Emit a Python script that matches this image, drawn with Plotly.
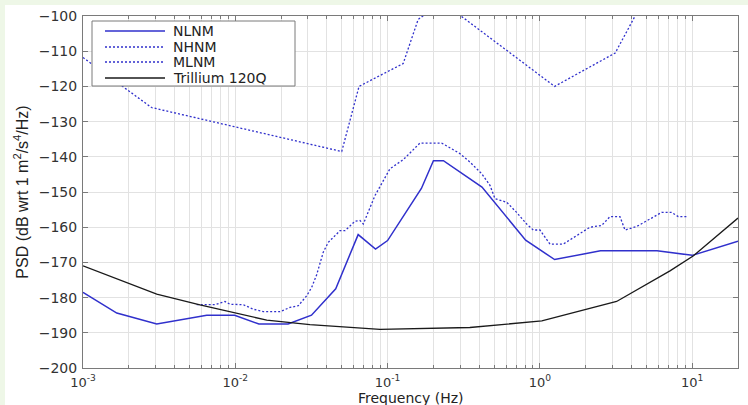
import plotly.graph_objects as go

# Peterson New Low Noise Model (frequency in Hz, PSD in dB)
nlnm_freq = [0.001, 0.001667, 0.003049, 0.006494, 0.009901, 0.01429, 0.02222, 0.03165,
             0.04566, 0.0641, 0.08333, 0.1, 0.1667, 0.2, 0.2326, 0.4167, 0.8065,
             1.25, 2.5, 5.882, 10.0, 20.0]
nlnm_psd = [-178.5, -184.4, -187.5, -185.0, -185.0, -187.5, -187.5, -185.0,
            -177.5, -162.1, -166.2, -163.8, -149.0, -141.1, -141.1, -148.6, -163.7,
            -169.2, -166.7, -166.7, -168.0, -164.0]

# Peterson New High Noise Model
nhnm_freq = [0.001, 0.002818, 0.05, 0.06494, 0.1266, 0.1587, 0.2174, 0.2632,
             1.25, 3.125, 4.545, 10.0]
nhnm_psd = [-111.8, -126.0, -138.5, -120.0, -113.5, -101.0, -96.5, -98.0,
            -120.0, -110.5, -97.4, -91.5]

# Station median low-noise curve
mlnm_freq = [0.00558, 0.00736, 0.00856, 0.00923, 0.01128, 0.01313, 0.01527, 0.01966,
             0.02286, 0.02593, 0.02942, 0.03174, 0.03423, 0.03782, 0.04078, 0.0487,
             0.05253, 0.06108, 0.06587, 0.06925, 0.08267, 0.09188, 0.1037, 0.1268,
             0.1632, 0.2265, 0.2987, 0.3475, 0.4148, 0.4703, 0.5072, 0.6053, 0.704,
             0.819, 0.9051, 1.0016, 1.165, 1.424, 1.744, 2.133, 2.546, 2.886, 3.357,
             3.622, 4.321, 6.304, 7.336, 8.104, 9.428]
mlnm_psd = [-182.0, -182.0, -181.1, -181.9, -182.0, -183.3, -184.0, -184.0,
            -182.8, -182.3, -179.5, -177.1, -173.5, -167.1, -164.3, -161.0,
            -161.0, -158.3, -158.1, -159.1, -151.0, -147.5, -143.4, -140.8,
            -136.1, -136.1, -139.1, -141.5, -144.8, -148.1, -151.9, -152.9, -155.8,
            -159.1, -160.8, -160.8, -164.8, -164.8, -162.4, -160.0, -159.5, -157.0, -157.0,
            -160.8, -159.8, -155.8, -155.8, -157.0, -157.0]

# Trillium 120Q self-noise
t120_freq = [0.001, 0.00305, 0.00586, 0.0101, 0.0161, 0.0309, 0.0729, 0.0892,
             0.347, 1.03, 3.19, 7.15, 10.2, 20.0]
t120_psd = [-171.0, -179.0, -182.1, -184.5, -186.4, -187.7, -188.7, -189.0,
            -188.5, -186.6, -181.1, -172.4, -168.1, -157.4]

x_tick_vals = [0.001, 0.01, 0.1, 1, 10]
x_tick_text = ["10<sup>-3</sup>", "10<sup>-2</sup>", "10<sup>-1</sup>",
               "10<sup>0</sup>", "10<sup>1</sup>"]
y_tick_vals = list(range(-200, -99, 10))

minor_vals = [m * 10 ** e for e in range(-3, 2) for m in range(2, 10) if m * 10 ** e <= 20]

BLUE = "#3030cc"
BLACK = "#1a1a1a"
DOT = "2px,2px"
FONT = "DejaVu Sans"

series = [
    ("NLNM", nlnm_freq, nlnm_psd, BLUE, 1.5, "solid"),
    ("NHNM", nhnm_freq, nhnm_psd, BLUE, 1.3, DOT),
    ("MLNM", mlnm_freq, mlnm_psd, BLUE, 1.3, DOT),
    ("Trillium 120Q", t120_freq, t120_psd, BLACK, 1.3, "solid"),
]

fig = go.Figure()
for name, fx, fy, color, width, dash in series:
    fig.add_trace(go.Scatter(x=fx, y=fy, mode="lines", name=name,
                             line=dict(color=color, width=width, dash=dash)))

W, H = 748, 405
ML, MR, MT, MB = 83, 10, 16, 37
PW, PH = W - ML - MR, H - MT - MB


def px_x(p):
    return (p - ML) / PW


def px_y(p):
    return 1 - (p - MT) / PH


# pale frame strips along the top and left edges of the page
frame = "#eef7e7"
fig.add_shape(type="rect", xref="paper", yref="paper", layer="below",
              x0=px_x(0), x1=px_x(W), y0=px_y(5), y1=px_y(0),
              fillcolor=frame, line_width=0)
fig.add_shape(type="rect", xref="paper", yref="paper", layer="below",
              x0=px_x(0), x1=px_x(5), y0=px_y(H), y1=px_y(0),
              fillcolor=frame, line_width=0)

# legend box drawn over the traces
fig.add_shape(type="rect", xref="paper", yref="paper", layer="above",
              x0=px_x(92), x1=px_x(295), y0=px_y(86), y1=px_y(21),
              fillcolor="white", line=dict(color="#7a7a7a", width=1))
row_y = [31, 47, 62, 78]
for (name, _, _, color, width, dash), ry in zip(series, row_y):
    fig.add_shape(type="line", xref="paper", yref="paper", layer="above",
                  x0=px_x(105), x1=px_x(165), y0=px_y(ry), y1=px_y(ry),
                  line=dict(color=color, width=width, dash=dash))
    fig.add_annotation(xref="paper", yref="paper", x=px_x(171), y=px_y(ry),
                       text=name, showarrow=False, xanchor="left", yanchor="middle",
                       font=dict(family=FONT, size=14, color="#222222"))

# x-axis title, placed at the bottom edge under the tick labels
fig.add_annotation(xref="paper", yref="paper", x=0.5, y=px_y(H + 2),
                   text="Frequency (Hz)", showarrow=False,
                   xanchor="center", yanchor="bottom", borderpad=0,
                   font=dict(family=FONT, size=14, color="#222222"))

axis_common = dict(
    showline=True, linecolor="#7a7a7a", linewidth=1, mirror="ticks",
    ticks="inside", ticklen=5, tickcolor="#7a7a7a", automargin=False,
    showgrid=True, gridcolor="#e2e2e2", gridwidth=1, zeroline=False,
)

fig.update_xaxes(
    type="log", range=[-3, 1.30103],
    tickvals=x_tick_vals, ticktext=x_tick_text, ticklabelstandoff=2,
    tickfont=dict(family=FONT, size=13, color="#333333"),
    minor=dict(tickvals=minor_vals, showgrid=True, gridcolor="#e2e2e2",
               ticks="inside", ticklen=3, tickcolor="#7a7a7a"),
    **axis_common,
)
fig.update_yaxes(
    range=[-200, -100], tickvals=y_tick_vals, ticklabelstandoff=2,
    tickfont=dict(family=FONT, size=14, color="#333333"),
    title=dict(text="PSD (dB wrt 1 m<sup>2</sup>/s<sup>4</sup>/Hz)", standoff=6,
               font=dict(family="Liberation Sans", size=16, color="#222222")),
    **axis_common,
)

fig.update_layout(
    width=W, height=H,
    margin=dict(l=ML, r=MR, t=MT, b=MB),
    paper_bgcolor="white", plot_bgcolor="white",
    showlegend=False,
)

fig.write_html("out.html")
